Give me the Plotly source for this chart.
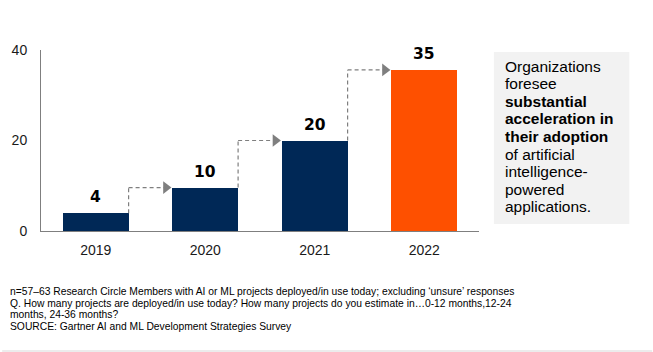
import plotly.graph_objects as go

# ---------------- data ----------------
years = ["2019", "2020", "2021", "2022"]
heights = [3.9, 9.6, 20.0, 35.6]          # bar heights
labels = ["4", "10", "20", "35"]          # printed value labels
bar_colors = ["#002856", "#002856", "#002856", "#FE5000"]
y_ticks = [0, 20, 40]

box_lines = [
    "Organizations",
    "foresee",
    "<b>substantial</b>",
    "<b>acceleration in</b>",
    "<b>their adoption</b>",
    "of artificial",
    "intelligence-",
    "powered",
    "applications.",
]

footer_lines = [
    "n=57\u201363 Research Circle Members with AI or ML projects deployed/in use today; excluding \u2018unsure\u2019 responses",
    "Q. How many projects are deployed/in use today? How many projects do you estimate in\u20260-12 months,12-24",
    "months, 24-36 months?",
    "SOURCE: Gartner AI and ML Development Strategies Survey",
]

# ---------------- layout geometry ----------------
W, H = 653, 352
ML, MR, MT, MB = 39, 174, 50, 121
PW, PH = W - ML - MR, H - MT - MB
x_positions = list(range(len(years)))
BAR_W = 0.6
px_per_unit = PW / len(years)


def paper_x(px):
    return (px - ML) / PW


def paper_y(py):
    return (H - MB - py) / PH


FONT = "Liberation Sans, Arial, sans-serif"
HEAVY = "DejaVu Sans, Liberation Sans, sans-serif"
GRAY = "#7f7f7f"

fig = go.Figure()
fig.add_trace(go.Bar(
    x=x_positions, y=heights, width=BAR_W,
    marker=dict(color=bar_colors, line=dict(width=0)),
    hoverinfo="skip", showlegend=False,
))

shapes = []
tip_off = 6.5 / px_per_unit
tri_x, tri_y = [], []
for i in range(len(years) - 1):
    xr = x_positions[i] + BAR_W / 2
    xl_next = x_positions[i + 1] - BAR_W / 2
    shapes.append(dict(type="line", xref="x", yref="y",
                       x0=xr, x1=xr, y0=heights[i], y1=heights[i + 1],
                       line=dict(color=GRAY, width=1.2, dash="4px,3px")))
    shapes.append(dict(type="line", xref="x", yref="y",
                       x0=xr, x1=xl_next - tip_off, y0=heights[i + 1], y1=heights[i + 1],
                       line=dict(color=GRAY, width=1.2, dash="4px,3px")))
    tri_x.append(xl_next - tip_off)
    tri_y.append(heights[i + 1])

fig.add_trace(go.Scatter(
    x=tri_x, y=tri_y, mode="markers",
    marker=dict(symbol="triangle-right", size=11, color=GRAY, line=dict(width=0)),
    hoverinfo="skip", showlegend=False, cliponaxis=False,
))

# grey text box
shapes.append(dict(type="rect", xref="paper", yref="paper",
                   x0=paper_x(494), x1=paper_x(630), y0=paper_y(224), y1=paper_y(52),
                   fillcolor="#f2f2f2", line=dict(width=0), layer="below"))
# bottom thin line
shapes.append(dict(type="line", xref="paper", yref="paper",
                   x0=paper_x(0), x1=paper_x(W), y0=paper_y(351), y1=paper_y(351),
                   line=dict(color="#d9d9d9", width=1)))

annotations = []
for xi, h, lab in zip(x_positions, heights, labels):
    annotations.append(dict(x=xi, y=h, xref="x", yref="y", text=f"<b>{lab}</b>",
                            showarrow=False, yanchor="middle", yshift=16,
                            font=dict(family=HEAVY, size=15.5, color="#000000")))

for k, line in enumerate(box_lines):
    annotations.append(dict(x=paper_x(503), y=paper_y(66 + 17.6 * k), xref="paper", yref="paper",
                            text=line, showarrow=False, xanchor="left", yanchor="middle",
                            font=dict(family=FONT, size=15.5, color="#000000")))

for k, line in enumerate(footer_lines):
    annotations.append(dict(x=paper_x(6), y=paper_y(291.5 + 11.5 * k), xref="paper", yref="paper",
                            text=line, showarrow=False, xanchor="left", yanchor="middle",
                            font=dict(family=FONT, size=10.3, color="#000000")))

fig.update_layout(
    width=W, height=H, autosize=False,
    margin=dict(l=ML, r=MR, t=MT, b=MB, pad=0),
    plot_bgcolor="white", paper_bgcolor="white",
    shapes=shapes, annotations=annotations,
    hovermode=False, bargap=0,
    font=dict(family=FONT, color="#1a1a1a"),
)
fig.update_xaxes(range=[-0.5, len(years) - 0.5], tickvals=x_positions, ticktext=years,
                 showline=True, linecolor=GRAY, linewidth=1, showgrid=False, zeroline=False,
                 ticks="", tickfont=dict(family=FONT, size=14, color="#1a1a1a"),
                 ticklabelstandoff=6, fixedrange=True)
fig.update_yaxes(range=[0, 40], tickvals=y_ticks, showline=True, linecolor=GRAY, linewidth=1,
                 showgrid=False, zeroline=False, ticks="",
                 tickfont=dict(family=FONT, size=14, color="#1a1a1a"),
                 ticklabelstandoff=10, fixedrange=True)

fig.write_html("out.html", config={"displayModeBar": False})
